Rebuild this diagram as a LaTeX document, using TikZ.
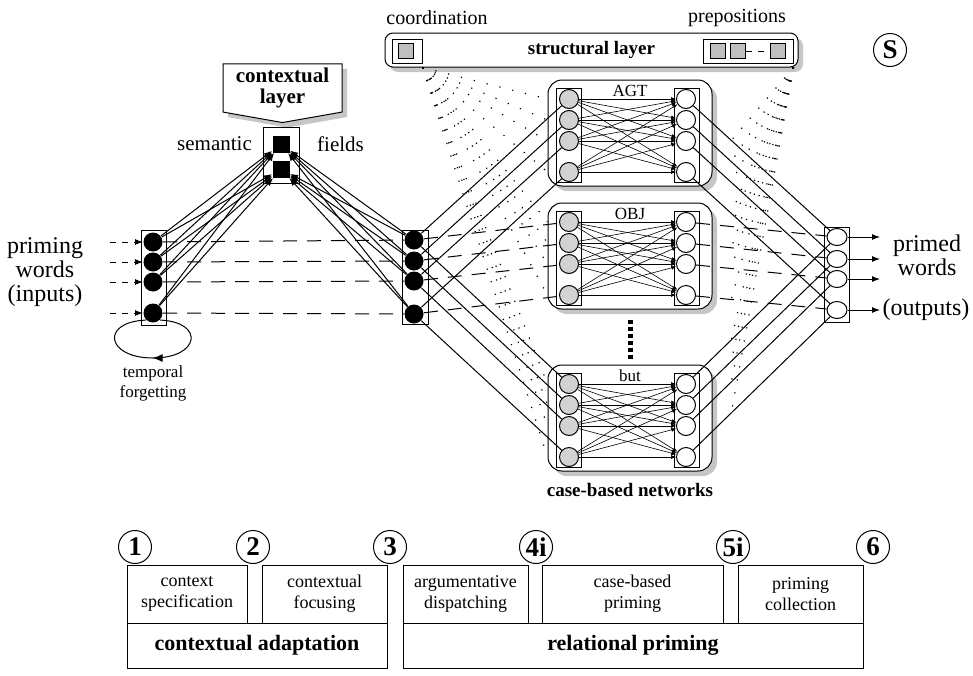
\documentclass[tikz,border=0pt]{standalone}
\usepackage{fontspec}
\setmainfont{Liberation Serif}
\usetikzlibrary{arrows.meta, positioning, calc, shapes.geometric, shapes.symbols, shadows, decorations.markings}

\tikzset{
  inunit/.style={circle, fill=black, inner sep=0pt, minimum size=9.5pt},
  leftunit/.style={circle, draw, fill=gray!35, inner sep=0pt, minimum size=9.5pt},
  rightunit/.style={circle, draw, fill=white, inner sep=0pt, minimum size=9.5pt},
  semunit/.style={rectangle, fill=black, inner sep=0pt, minimum size=8.5pt},
  graysq/.style={rectangle, draw, fill=gray!50, inner sep=0pt, minimum size=7.5pt},
  colbox/.style={draw, inner sep=0pt, minimum width=12.5pt},
  shadowed/.style={drop shadow={shadow xshift=2.5pt, shadow yshift=-2.5pt, fill=gray!45, opacity=1}},
  netbox/.style={draw, rounded corners=7pt, fill=white, minimum width=82pt, minimum height=53pt, shadowed},
  stepnum/.style={circle, draw, inner sep=0pt, minimum size=16.5pt, font=\fontsize{13.5}{13.5}\selectfont\bfseries},
  phasebox/.style={draw, align=center, inner sep=1pt, font=\fontsize{9}{10.5}\selectfont},
  stagebox/.style={draw, inner sep=1pt, minimum height=22.5pt, font=\fontsize{11}{12}\selectfont\bfseries},
  fan/.style={dash pattern=on 0.6pt off 6pt, line width=0.6pt},
  arr/.style={-{Latex[length=4pt, width=3pt]}}
}

\begin{document}
\begin{tikzpicture}[x=0.5pt, y=-0.5pt, line width=0.5pt]
  \useasboundingbox (0,0) rectangle (973,675);

  % structural layer
  \node[draw, rounded corners=4pt, fill=white, minimum width=206.5pt, minimum height=17pt, shadowed,
        font=\fontsize{9.5}{10}\selectfont\bfseries] (strl) at (591.5,50) {structural layer};
  \node[draw, fill=white, minimum width=15pt, minimum height=12pt] (coord) at (407,51) {};
  \node[graysq] (cq) at (406,51) {};
  \node[draw, fill=white, minimum width=45pt, minimum height=12pt] (prep) at (748,51) {};
  \foreach \k/\x in {1/718,2/738,3/778}
    \node[graysq] (p\k) at (\x,51) {};
  \draw[dashed] (p2) -- (p3);
  \node[font=\fontsize{10}{10}\selectfont] (coordlbl) at (437,18) {coordination};
  \node[font=\fontsize{10}{10}\selectfont] (preplbl) at (737,18) {prepositions};
  \node[stepnum] (S) at (890,50) {S};

  % contextual layer and semantic fields
  \node[signal, signal to=south, signal pointer angle=160, draw, fill=white, shadowed, align=center,
        minimum width=59.5pt, inner sep=2pt, font=\fontsize{10.5}{10.5}\selectfont\bfseries] (ctx) at (282.5,88) {contextual\\layer};
  \node[colbox, minimum width=18pt, minimum height=28pt] (semcol) at (281,155) {};
  \node[semunit] (s1) at (281,144) {};
  \node[semunit] (s2) at (281,169) {};
  \node[left=6.5pt of s1, font=\fontsize{10.5}{10.5}\selectfont] (semlbl) {semantic};
  \node[right=10pt of s1, font=\fontsize{10.5}{10.5}\selectfont] (fldlbl) {fields};

  % case-based networks
  \foreach \net/\lbl/\top in {agt/AGT/80, obj/OBJ/203, but/but/365} {
    \node[netbox] (\net) at (630,\top+53) {};
    \node[font=\fontsize{8.5}{8.5}\selectfont] (\net-lbl) at (630,\top+11) {\lbl};
    \node[colbox, minimum height=47pt] (\net-lc) at (569,\top+55) {};
    \node[colbox, minimum height=47pt] (\net-rc) at (686.5,\top+55) {};
    \foreach \i/\dy in {1/19,2/40,3/61,4/92} {
      \node[leftunit] (\net-l\i) at (569,\top+\dy) {};
      \node[rightunit] (\net-r\i) at (686,\top+\dy) {};
    }
    \foreach \i in {1,...,4}
      \foreach \j in {1,...,4}
        \draw[line width=0.3pt, -{Latex[length=2.5pt, width=2pt]}] (\net-l\i) -- (\net-r\j);
  }
  \draw[line width=2.5pt, dash pattern=on 2pt off 1.5pt] ([yshift=-5pt]obj.south) -- ([yshift=2pt]but.north);
  \node[font=\fontsize{9.5}{10}\selectfont\bfseries] (cblbl) at (630,490) {case-based networks};

  % input, dispatching and output columns
  \node[colbox, minimum height=47.5pt] (incol) at (154,277.5) {};
  \node[colbox, minimum width=13pt, minimum height=47pt] (dcol) at (415,277) {};
  \node[colbox, minimum height=47.5pt] (ocol) at (836.5,274.5) {};
  \foreach \i/\y/\dy/\oy in {1/242/240/237, 2/262/261/259, 3/282/281/279, 4/313/314/310} {
    \node[inunit] (i\i) at (153,\y) {};
    \node[inunit] (d\i) at (414,\dy) {};
    \node[rightunit, minimum width=10pt, minimum height=8.5pt, ellipse] (o\i) at (837,\oy) {};
    \coordinate (in\i) at (110,\y);
    \coordinate (out\i) at (880,\oy);
  }

  % labels
  \node[align=center, font=\fontsize{12}{12}\selectfont] (inlbl) at (45,272) {priming\\words\\(inputs)};
  \node[align=center, font=\fontsize{12}{12}\selectfont] (outlbl) at (927,255) {primed\\words};
  \node[font=\fontsize{12}{12}\selectfont] (outlbl2) at (926,310) {(outputs)};
  \node[align=center, font=\fontsize{8.5}{10}\selectfont] (tflbl) at (153,383) {temporal\\forgetting};

  % connections
  \foreach \i in {1,...,4} {
    \draw[dashed, arr] (in\i) -- (i\i);
    \draw[arr] (o\i) -- (out\i);
    \draw[dash pattern=on 7pt off 5pt] (i\i) -- (d\i);
    \foreach \s in {1,2} {
      \draw[arr] (i\i) -- (s\s);
      \draw[arr] (d\i) -- (s\s);
    }
    \draw (d\i) -- (agt-l\i);
    \draw[dash pattern=on 7pt off 5pt] (d\i) -- (obj-l\i);
    \draw (d\i) -- (but-l\i);
    \draw (agt-r\i) -- (o\i);
    \draw[dash pattern=on 7pt off 5pt] (obj-r\i) -- (o\i);
    \draw (but-r\i) -- (o\i);
  }
  \draw[postaction={decorate}, decoration={markings, mark=at position 0.5 with {\arrow{Latex[length=5pt, width=4pt]}}}]
    (i4.south east) .. controls (205,322) and (200,358) .. (153,358) .. controls (106,358) and (100,322) .. (i4.south west);

  % structural influence on the links
  \coordinate (cfan) at (coord.south east |- strl.south);
  \coordinate (pfan) at (prep.south east |- strl.south);
  \foreach \net in {agt,obj,but}
    \foreach \i in {1,...,4} {
      \draw[fan] (cfan) -- (\net-l\i -| \net.west);
      \draw[fan] (pfan) -- ($(\net-r\i)!0.3!(o\i)$);
    }

  % processing steps
  \foreach \x/\t in {135/1, 253/2, 390/3, 536/4i, 733/5i, 873/6}
    \node[stepnum] (n\t) at (\x,547) {\t};
  \node[phasebox, minimum width=60pt, minimum height=29pt] (ph1) at (187,594) {context\\specification};
  \node[phasebox, minimum width=62.5pt, minimum height=29pt] (ph2) at (324.5,594) {contextual\\focusing};
  \node[phasebox, minimum width=62.5pt, minimum height=29pt] (ph3) at (465.5,594) {argumentative\\dispatching};
  \node[phasebox, minimum width=90.5pt, minimum height=29pt] (ph4) at (632.5,594) {case-based\\priming};
  \node[phasebox, minimum width=62.5pt, minimum height=29pt] (ph5) at (800.5,594) {priming\\collection};
  \node[stagebox, minimum width=130pt] (st1) at (257,645.5) {contextual adaptation};
  \node[stagebox, minimum width=230pt] (st2) at (633,645.5) {relational priming};
\end{tikzpicture}
\end{document}
